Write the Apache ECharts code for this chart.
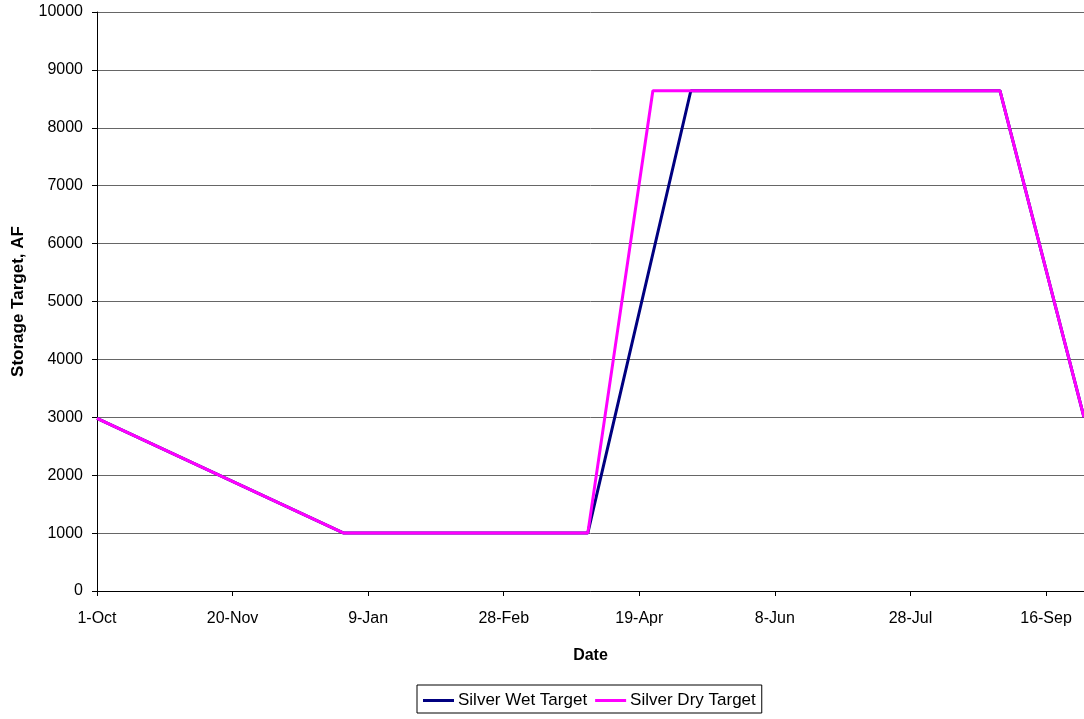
<!DOCTYPE html>
<html>
<head>
<meta charset="utf-8">
<script src="https://cdn.jsdelivr.net/npm/echarts@6/dist/echarts.min.js"></script>
<style>html,body{margin:0;padding:0;background:#fff}#c{width:1084px;height:719px}</style>
</head>
<body>
<div id="c"></div>
<script>
// Day offsets from 1-Oct
var xTickLabels = ['1-Oct','20-Nov','9-Jan','28-Feb','19-Apr','8-Jun','28-Jul','16-Sep'];
var wetDays   = [0, 91, 181, 219, 333, 364];
var wetValues = [2980, 1000, 1000, 8640, 8640, 3000];
var dryDays   = [0, 91, 181, 205, 333, 364];
var dryValues = [2980, 1000, 1000, 8640, 8640, 3000];

function pairs(xs, ys){ return xs.map(function(x,i){ return [x, ys[i]]; }); }

var chart = echarts.init(document.getElementById('c'), null, {renderer:'canvas'});
var font = 'Liberation Sans, Arial, sans-serif';
chart.setOption({
  animation:false,
  backgroundColor:'#fff',
  grid:{left:97, right:0, top:12, bottom:128, containLabel:false, outerBoundsMode:'none'},
  xAxis:{
    type:'value', min:0, max:364, interval:50,
    name:'Date', nameLocation:'middle', nameGap:57,
    nameTextStyle:{fontFamily:font, fontSize:16, fontWeight:'bold', color:'#000'},
    axisLine:{show:true, lineStyle:{color:'#000', width:1}},
    axisTick:{show:true, length:5, inside:false, lineStyle:{color:'#000'}},
    axisLabel:{fontFamily:font, fontSize:16, color:'#000', margin:20, showMaxLabel:false,
      formatter:function(v){ return (v % 50 === 0) ? (xTickLabels[v/50] || '') : ''; }},
    splitLine:{show:false}
  },
  yAxis:{
    type:'value', min:0, max:10000, interval:1000,
    name:'Storage Target, AF', nameLocation:'middle', nameGap:70,
    nameTextStyle:{fontFamily:font, fontSize:17, fontWeight:'bold', color:'#000'},
    axisLine:{show:true, lineStyle:{color:'#000', width:1}},
    axisTick:{show:true, length:5, lineStyle:{color:'#000'}},
    axisLabel:{fontFamily:font, fontSize:16, color:'#000', margin:14,
      formatter:function(v){ return String(v); }},
    splitLine:{show:true, lineStyle:{color:'#666', width:1}}
  },
  legend:{
    top:685, left:417,
    orient:'horizontal',
    borderColor:'#000', borderWidth:1, borderRadius:0,
    padding:[7,6,4,6],
    itemGap:8, itemWidth:31, itemHeight:3, icon:'rect',
    textStyle:{fontFamily:font, fontSize:17, color:'#000', padding:[0,0,0,-1]},
    data:['Silver Wet Target','Silver Dry Target']
  },
  series:[
    {name:'Silver Wet Target', type:'line', data:pairs(wetDays, wetValues),
     symbol:'none', lineStyle:{color:'#000080', width:3}, itemStyle:{color:'#000080'}, z:2},
    {name:'Silver Dry Target', type:'line', data:pairs(dryDays, dryValues),
     symbol:'none', lineStyle:{color:'#FF00FF', width:3}, itemStyle:{color:'#FF00FF'}, z:3}
  ]
});
</script>
</body>
</html>
